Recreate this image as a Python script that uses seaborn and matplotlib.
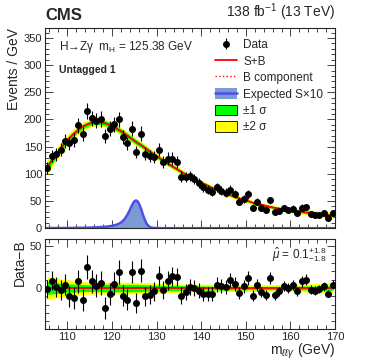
import numpy as np
import matplotlib
matplotlib.use("Agg")
import matplotlib.pyplot as plt
import seaborn as sns
from matplotlib.patches import Patch
from matplotlib.lines import Line2D
from matplotlib.ticker import MultipleLocator

# bin centres (1 GeV bins, 105-170 GeV)
mass = np.arange(105.5, 170.0, 1.0)

# observed events per bin
data_counts = [111, 133, 136, 144, 161, 156, 162, 189, 173, 216,
               202, 198, 201, 169, 183, 191, 200, 167, 156, 183,
               140, 174, 137, 133, 131, 144, 122, 128, 128, 122,
               95, 94, 96, 90, 83, 75, 71, 67, 75, 69,
               65, 71, 63, 49, 54, 62, 38, 49, 38, 33,
               51, 29, 32, 37, 33, 36, 27, 38, 39, 26,
               24, 25, 27, 18, 28]

# background fit read at bin centres
bkg = [112, 124, 135, 146, 157, 166, 174, 181, 187, 191,
       194, 195, 195, 193, 190, 186, 181, 176, 170, 164,
       158, 153, 147, 141, 135, 130, 124, 119, 114, 109,
       104, 99, 95, 90, 86, 82, 78, 74, 71, 67,
       64, 61, 58, 55, 52, 50, 47, 45, 43, 41,
       39, 37.5, 36, 34.5, 33, 32, 31, 30, 29, 28,
       27, 26, 25, 24.5, 24]

# expected signal x10
sig_mass = [105, 110, 114, 116, 118, 119, 120, 121, 122, 122.5, 123, 123.5,
            124, 124.5, 125, 125.4, 125.8, 126.2, 126.6, 127, 127.4, 127.8,
            128.2, 128.6, 129, 130, 132, 170]
sig_vals = [0.1, 0.3, 0.8, 1.3, 2.2, 3.0, 4.2, 6.2, 10, 13.5, 18.5, 25,
            33, 42, 49, 51, 49, 43, 34, 24, 15, 8,
            4, 1.8, 0.8, 0.2, 0, 0]

# uncertainty band half widths
band_mass = [105, 110, 115, 120, 125, 130, 135, 140, 150, 160, 170]
band_1s = [8, 5, 4, 4.5, 4.5, 3.5, 3, 2.5, 2, 2, 3]
band_2s = [14, 10, 7, 7, 7, 6, 5, 4.5, 4, 4, 6.5]

sns.set_style("ticks")
plt.rcParams['font.family'] = ['Liberation Sans', 'DejaVu Sans']
plt.rcParams['mathtext.fontset'] = 'custom'
plt.rcParams['mathtext.rm'] = 'Liberation Sans'
plt.rcParams['mathtext.it'] = 'Liberation Sans:italic'

fig = plt.figure(figsize=(3.74, 3.61), dpi=100)
ax = fig.add_axes([0.120, 0.368, 0.776, 0.554])
axr = fig.add_axes([0.120, 0.0886, 0.776, 0.250])

counts = np.array(data_counts, dtype=float)
b = np.array(bkg, dtype=float)
err = np.sqrt(counts)
w1 = np.interp(mass, band_mass, band_1s)
w2 = np.interp(mass, band_mass, band_2s)

yellow = "#ffff00"
green = "#00ff00"
red = "#ff0000"
blue_fill = "#7c9bd6"
blue_line = "#4f4fe8"

# top panel
ax.fill_between(mass, b - w2, b + w2, color=yellow, lw=0)
ax.fill_between(mass, b - w1, b + w1, color=green, lw=0)
ax.fill_between(sig_mass, 0, sig_vals, color=blue_fill, lw=0)
sns.lineplot(x=sig_mass, y=sig_vals, ax=ax, color=blue_line, lw=1.8)
sns.lineplot(x=mass, y=b, ax=ax, color=red, lw=1.0, linestyle=":")
sns.lineplot(x=mass, y=b, ax=ax, color=red, lw=1.3)
eb = ax.errorbar(mass, counts, yerr=err, fmt="o", color="black", ms=4,
                 elinewidth=0.8, capsize=0, zorder=5)

ax.set_xlim(105, 170)
ax.set_ylim(0, 368)
ax.set_ylabel("Events / GeV", fontsize=10, loc="top", labelpad=2)
ax.set_xlabel("")
ax.tick_params(labelbottom=False)

ax.text(0.05, 0.945, "H\u2192Z\u03b3  m$_{\\rm H}$ = 125.38 GeV",
        transform=ax.transAxes, fontsize=8.5, va="top")
ax.text(0.05, 0.815, "Untagged 1", transform=ax.transAxes, fontsize=7.5,
        fontweight="bold", va="top")

handles = [
    eb,
    Line2D([], [], color=red, lw=1.3),
    Line2D([], [], color=red, lw=1.0, linestyle=":"),
    (Patch(facecolor=blue_fill, edgecolor="none"), Line2D([], [], color=blue_line, lw=1.8)),
    Patch(facecolor=green, edgecolor="black", lw=0.6),
    Patch(facecolor=yellow, edgecolor="black", lw=0.6),
]
labels = ["Data", "S+B", "B component", "Expected S\u00d710",
          "\u00b11 \u03c3", "\u00b12 \u03c3"]
ax.legend(handles, labels, loc="upper left", bbox_to_anchor=(0.57, 0.97),
          frameon=False, fontsize=8.5, handlelength=1.9, handleheight=1.0,
          labelspacing=0.35, handletextpad=0.5, borderaxespad=0)

# bottom panel
zero = np.zeros_like(mass)
axr.fill_between(mass, -w2, w2, color=yellow, lw=0)
axr.fill_between(mass, -w1, w1, color=green, lw=0)
sns.lineplot(x=mass, y=zero, ax=axr, color=red, lw=1.3)
axr.errorbar(mass, counts - b, yerr=err, fmt="o", color="black", ms=4,
             elinewidth=0.8, capsize=0, zorder=5)
axr.set_xlim(105, 170)
axr.set_ylim(-49, 59)
axr.set_yticks([0, 50])
axr.set_ylabel("Data\u2212B", fontsize=10, loc="top", labelpad=2)
axr.set_xlabel(r"m$_{\ell\ell\gamma}$ (GeV)", fontsize=10, loc="right", labelpad=0)
axr.text(0.97, 0.93, r"$\hat{\mu}$ = 0.1$^{+1.8}_{-1.8}$", transform=axr.transAxes,
         fontsize=8.5, ha="right", va="top")

for a in (ax, axr):
    a.xaxis.set_major_locator(MultipleLocator(10))
    a.xaxis.set_minor_locator(MultipleLocator(2))
    a.yaxis.set_minor_locator(MultipleLocator(10))
    a.tick_params(which="both", direction="in", top=True, right=True,
                  labelsize=8, width=0.6, pad=2)
    a.tick_params(which="major", length=6)
    a.tick_params(which="minor", length=3)
    for s in a.spines.values():
        s.set_linewidth(0.8)
        s.set_visible(True)
ax.yaxis.set_major_locator(MultipleLocator(50))

fig.text(0.120, 0.935, "CMS", fontsize=12, fontweight="bold", ha="left", va="bottom")
fig.text(0.896, 0.935, r"138 fb$^{-1}$ (13 TeV)", fontsize=10, ha="right", va="bottom")

fig.savefig("out.png", dpi=100)
